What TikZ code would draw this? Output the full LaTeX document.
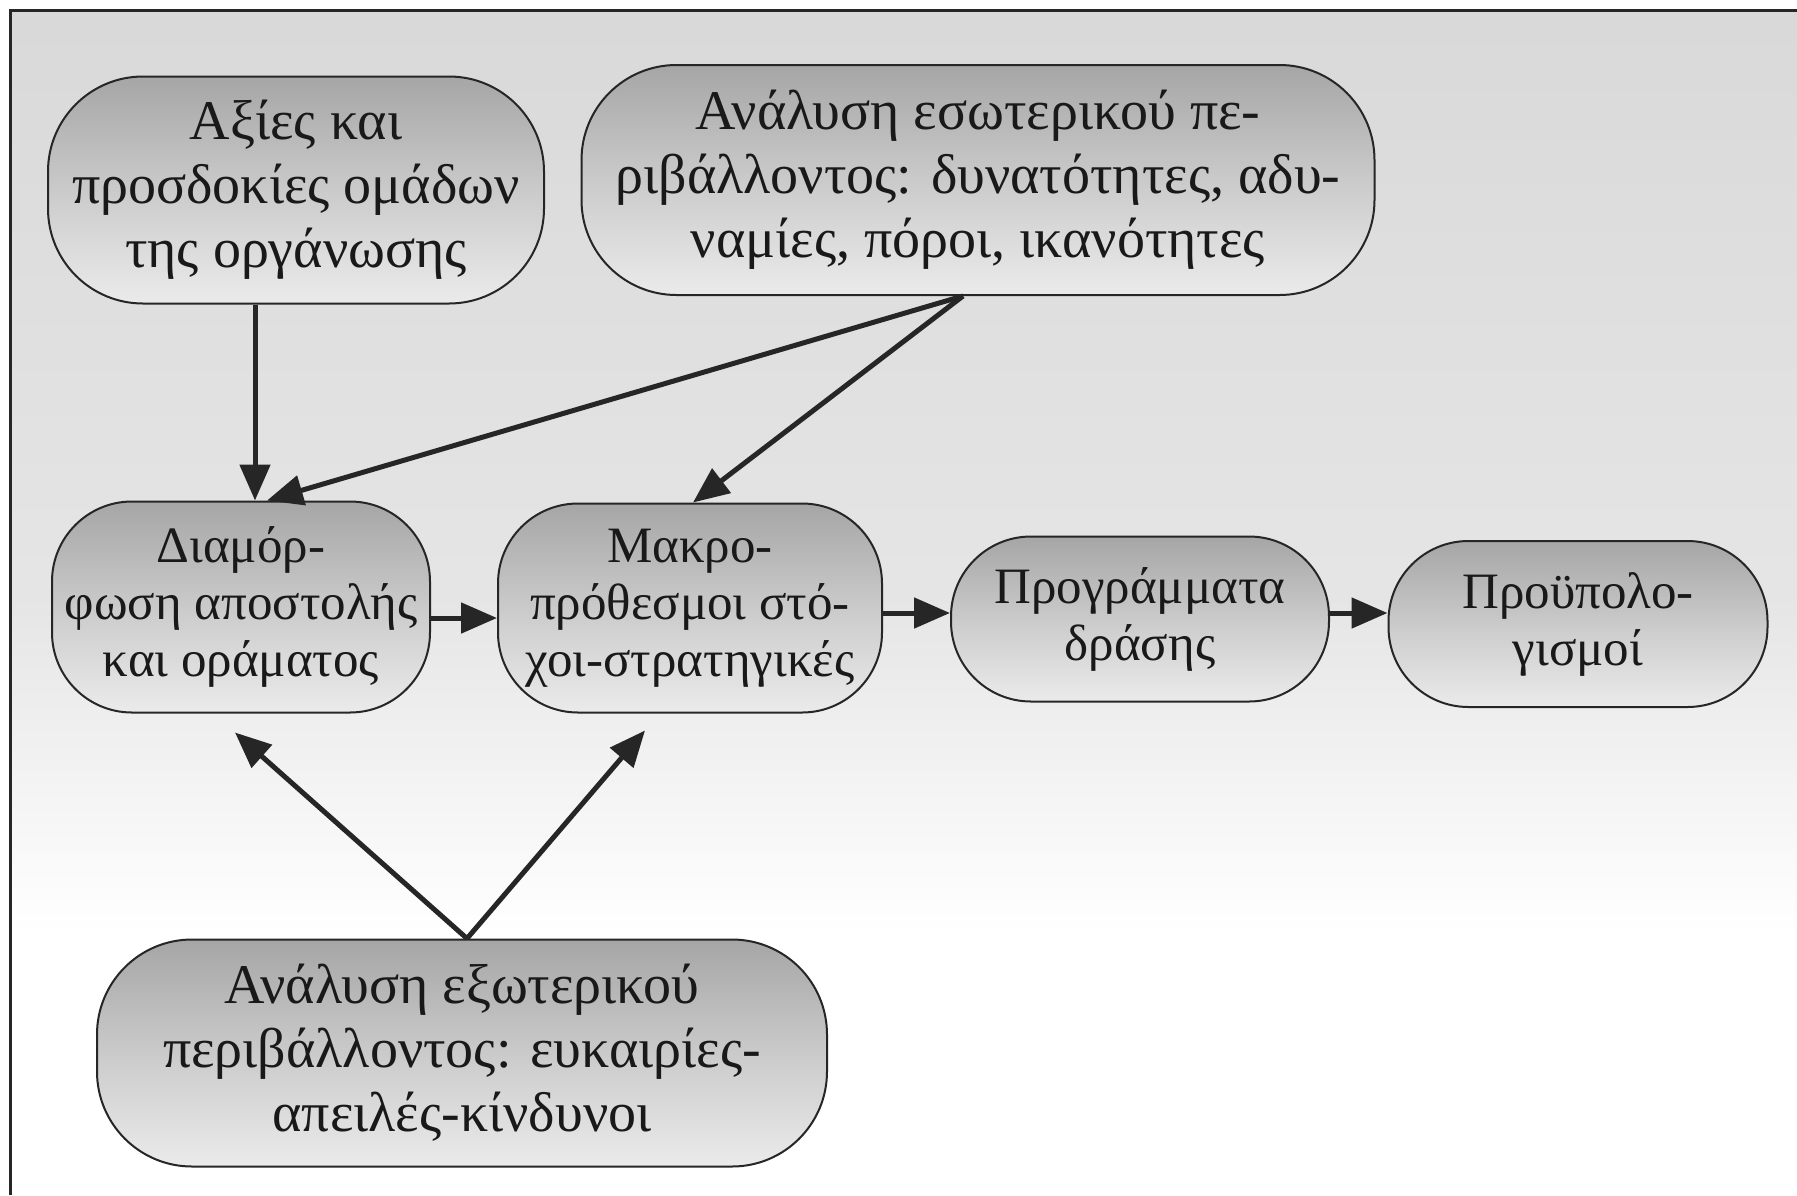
\documentclass[tikz,border=0pt]{standalone}
\usepackage{fontspec}
\setmainfont{Liberation Serif}
\usetikzlibrary{arrows.meta,positioning}
\pgfdeclareverticalshading{bgshade}{100bp}{color(0bp)=(white); color(36bp)=(white); color(50bp)=(gray!20); color(75bp)=(gray!30); color(100bp)=(gray!30)}
\pgfdeclareverticalshading{boxshade}{100bp}{color(0bp)=(gray!16); color(25bp)=(gray!16); color(47bp)=(gray!38); color(75bp)=(gray!70); color(100bp)=(gray!70)}
\tikzset{
  stage/.style={draw=black!85, line width=2pt, rounded corners=95pt, shading=boxshade,
    align=center, inner sep=0pt, text=black!90, font=\fontsize{56}{64}\selectfont},
  smallstage/.style={stage, rounded corners=80pt, font=\fontsize{51}{57}\selectfont},
  arr/.style={draw=black!85, line width=5pt, -{Triangle[length=36pt,width=30pt]}}
}
\begin{document}
\begin{tikzpicture}[x=1pt,y=-1pt]
\useasboundingbox (0,0) rectangle (1797,1195);
\shade[shading=bgshade] (10,10) rectangle (1797,1195);
\draw[line width=3pt, black!85] (10,1195) -- (10,10) -- (1797,10);

\node[stage, minimum width=496pt, minimum height=227pt] (a) at (296,190)
  {Αξίες και\\προσδοκίες ομάδων\\της οργάνωσης};
\node[stage, minimum width=793pt, minimum height=230pt] (b) at (978,180)
  {Ανάλυση εσωτερικού πε-\\ριβάλλοντος: δυνατότητες, αδυ-\\ναμίες, πόροι, ικανότητες};
\node[smallstage, minimum width=378pt, minimum height=211pt] (c) at (241,607)
  {Διαμόρ-\\φωση αποστολής\\και οράματος};
\node[smallstage, minimum width=384pt, minimum height=209pt] (d) at (690,608)
  {Μακρο-\\πρόθεσμοι στό-\\χοι-στρατηγικές};
\node[smallstage, minimum width=378pt, minimum height=165pt] (e) at (1140,619)
  {Προγράμματα\\δράσης};
\node[smallstage, minimum width=379pt, minimum height=166pt] (f) at (1578,624)
  {Προϋπολο-\\γισμοί};
\node[stage, minimum width=730pt, minimum height=227pt] (g) at (462,1053)
  {Ανάλυση εξωτερικού\\περιβάλλοντος: ευκαιρίες-\\απειλές-κίνδυνοι};

\draw[arr] ([xshift=-41pt]a.south) -- ([xshift=14pt]c.north);
\draw[arr] ([xshift=-15pt]b.south) -- ([xshift=26pt]c.north);
\draw[arr] ([xshift=-15pt]b.south) -- ([xshift=3pt]d.north);
\draw[arr] ([yshift=-11pt]c.east) -- ([yshift=-10pt]d.west);
\draw[arr] ([yshift=-5pt]d.east) -- ([yshift=6pt]e.west);
\draw[arr] ([yshift=6pt]e.east) -- ([yshift=11pt]f.west);
\draw[arr] ([xshift=5pt]g.north) -- ([xshift=-6pt,yshift=-19pt]c.south);
\draw[arr] ([xshift=5pt]g.north) -- ([xshift=-45pt,yshift=-17pt]d.south);
\end{tikzpicture}
\end{document}
